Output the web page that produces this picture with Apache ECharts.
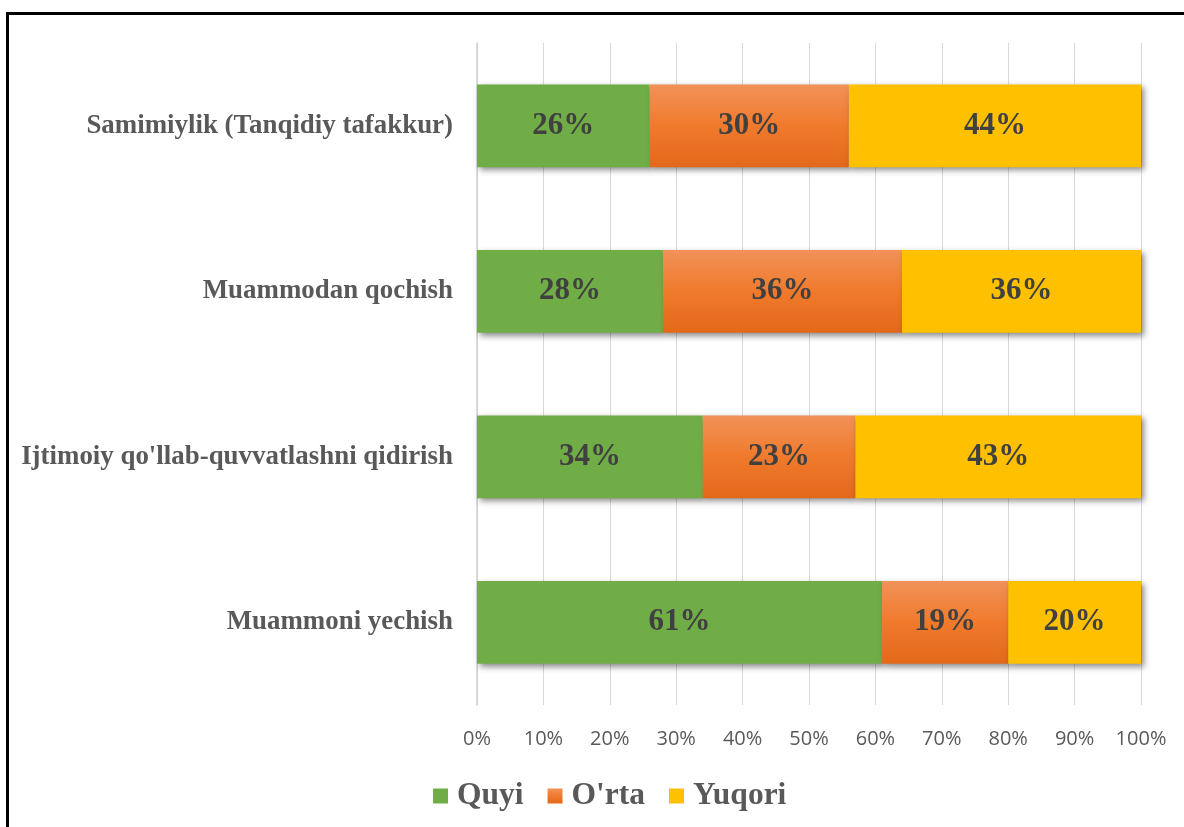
<!DOCTYPE html>
<html>
<head>
<meta charset="utf-8">
<script src="https://cdn.jsdelivr.net/npm/echarts@6/dist/echarts.min.js"></script>
<style>
html,body{margin:0;padding:0;background:#fff;}
#chart{width:1184px;height:827px;}
</style>
</head>
<body>
<div id="chart"></div>
<script>
const categories = ['Muammoni yechish', "Ijtimoiy qo'llab-quvvatlashni qidirish", 'Muammodan qochish', 'Samimiylik (Tanqidiy tafakkur)'];
const seriesNames = ['Quyi', "O'rta", 'Yuqori'];
const quyi = [61, 34, 28, 26];
const orta = [19, 23, 36, 30];
const yuqori = [20, 43, 36, 44];
const xTicks = [0, 10, 20, 30, 40, 50, 60, 70, 80, 90, 100];

const chart = echarts.init(document.getElementById('chart'), null, {renderer: 'canvas'});
const serif = '"Liberation Serif", "DejaVu Serif", serif';
const shadow = {shadowColor: 'rgba(0,0,0,0.45)', shadowBlur: 6, shadowOffsetX: 3, shadowOffsetY: 3};
const label = {show: true, position: 'inside', formatter: '{c}%', fontFamily: serif, fontWeight: 'bold', fontSize: 31, color: '#404040'};
const orangeGrad = new echarts.graphic.LinearGradient(0, 0, 0, 1, [
  {offset: 0, color: '#F19259'},
  {offset: 0.5, color: '#F07A2C'},
  {offset: 1, color: '#E3681A'}
]);
const colors = ['#70AD47', orangeGrad, '#FFC000'];
const data = [quyi, orta, yuqori];

chart.setOption({
  animation: false,
  graphic: [{
    type: 'rect', silent: true, z: 100,
    shape: {x: 7.5, y: 13.5, width: 1400, height: 1000},
    style: {fill: 'none', stroke: '#000', lineWidth: 3}
  }],
  grid: {left: 477, right: 43, top: 43, bottom: 122, containLabel: false},
  legend: {
    data: seriesNames,
    left: 428, top: 775,
    icon: 'rect', itemWidth: 15, itemHeight: 15, itemGap: 24,
    textStyle: {fontFamily: serif, fontWeight: 'bold', fontSize: 31.5, color: '#595959', padding: [0, 0, 0, 4]}
  },
  xAxis: {
    type: 'value', min: 0, max: 100, interval: 10,
    axisLine: {show: false}, axisTick: {show: false},
    splitLine: {show: true, lineStyle: {color: '#D9D9D9', width: 1}},
    axisLabel: {
      margin: 24, color: '#595959', fontSize: 20, fontFamily: '"Open Sans", "Noto Sans", sans-serif',
      formatter: v => xTicks.includes(v) ? v + '%' : ''
    }
  },
  yAxis: {
    type: 'category', data: categories,
    axisLine: {show: true, lineStyle: {color: '#D0D0D0', width: 1.5}},
    axisTick: {show: false},
    axisLabel: {margin: 24, fontFamily: serif, fontWeight: 'bold', fontSize: 26.9, color: '#595959', padding: [4, 0, 0, 0]}
  },
  series: seriesNames.map((name, i) => ({
    name, type: 'bar', stack: 'total', barWidth: '50%',
    data: data[i],
    itemStyle: Object.assign({color: colors[i]}, shadow),
    label: label
  }))
});
</script>
</body>
</html>
